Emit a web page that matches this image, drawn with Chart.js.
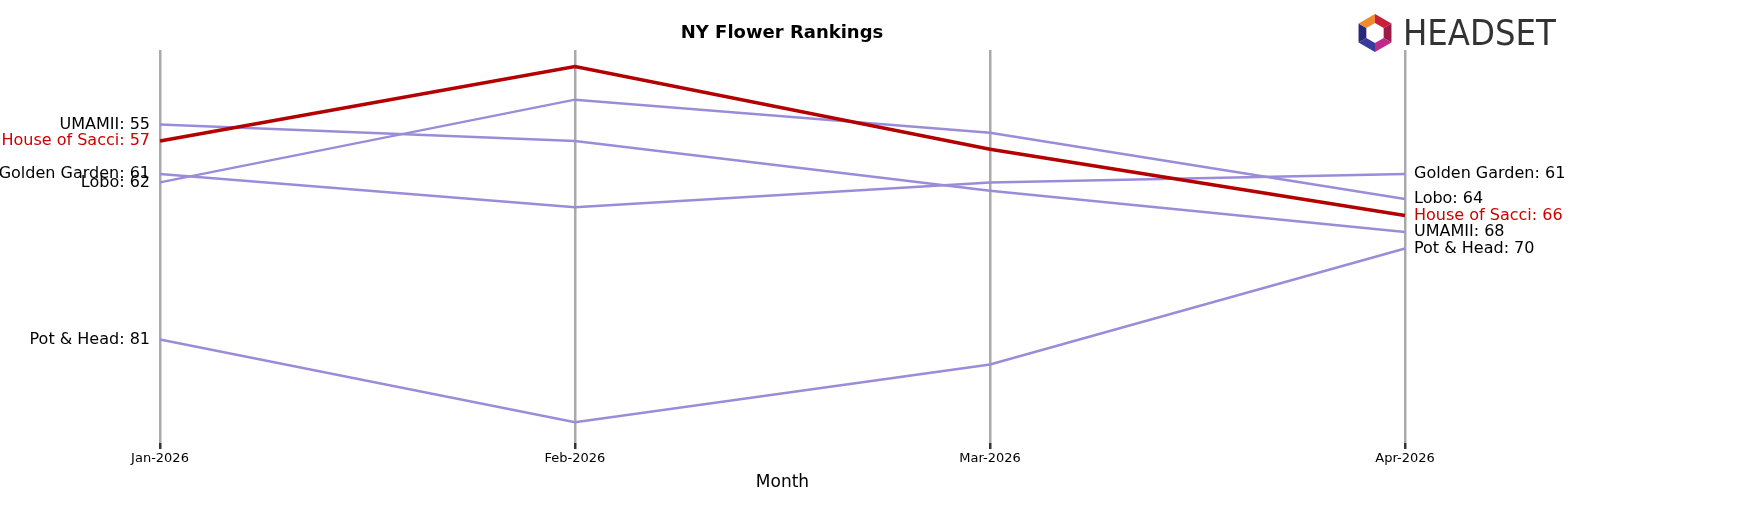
<!DOCTYPE html>
<html><head><script src="https://cdn.jsdelivr.net/npm/chart.js@4"></script>
<style>body{margin:0;background:#fff}#w{width:1749px;height:507px}</style></head>
<body><div id="w"><canvas id="c"></canvas></div>
<script>
const months=["Jan-2026","Feb-2026","Mar-2026","Apr-2026"];
const brands=["UMAMII","House of Sacci","Golden Garden","Lobo","Pot & Head"];
const umamii=[55,57,63,68];
const sacci=[57,48,58,66];
const golden=[61,65,62,61];
const lobo=[62,52,56,64];
const potHead=[81,91,84,70];
const series=[umamii,sacci,golden,lobo,potHead];
const highlight="House of Sacci";
const ds=brands.map((b,i)=>({label:b,data:series[i],borderColor:b===highlight?"#b30000":"#9b8cd9",borderWidth:b===highlight?3.5:2.5,pointRadius:0,tension:0,order:b===highlight?0:1}));
const labelPlugin={id:"lbl",afterDraw(ch){
 const c=ch.ctx,x=ch.scales.x,y=ch.scales.y;
 c.save();c.font="16px 'DejaVu Sans'";c.textBaseline="middle";
 ds.forEach(d=>{c.fillStyle=d.label===highlight?"#cc0000":"#000";
  c.textAlign="right";c.fillText(d.label+": "+d.data[0],x.getPixelForValue(0)-10,y.getPixelForValue(d.data[0]));
  c.textAlign="left";c.fillText(d.label+": "+d.data[3],x.getPixelForValue(3)+9,y.getPixelForValue(d.data[3]));});
 c.fillStyle="#000";c.font="bold 18px 'DejaVu Sans'";c.textAlign="center";c.fillText("NY Flower Rankings",782,33);
 const cx=1375,cy=38;const cols=["#c8203a","#a01848","#c0288a","#3a3a9a","#28287a","#f08a30"];
 for(let k=0;k<6;k++){c.beginPath();const a0=(-90+k*60)*Math.PI/180,a1=(-30+k*60)*Math.PI/180;
  c.moveTo(cx+19*Math.cos(a0),cy-5+19*Math.sin(a0));c.lineTo(cx+19*Math.cos(a1),cy-5+19*Math.sin(a1));
  c.lineTo(cx+10*Math.cos(a1),cy-5+10*Math.sin(a1));c.lineTo(cx+10*Math.cos(a0),cy-5+10*Math.sin(a0));c.closePath();c.fillStyle=cols[k];c.fill();}
 c.fillStyle="#333";c.font="36px 'DejaVu Sans Condensed'";c.textAlign="left";c.fillText("HEADSET",1403,36);
 c.restore();}};
new Chart(document.getElementById("c"),{type:"line",data:{labels:months,datasets:ds},
options:{responsive:true,maintainAspectRatio:false,animation:false,
layout:{padding:{left:160,right:344,top:50,bottom:10}},
plugins:{legend:{display:false},tooltip:{enabled:false}},
scales:{x:{offset:false,grid:{color:"#aaa",lineWidth:2.5,drawTicks:true,tickLength:6,tickColor:"#333"},border:{display:false},
 ticks:{color:"#000",font:{size:13,family:"DejaVu Sans"},maxRotation:0,padding:2},
 title:{display:true,text:"Month",color:"#000",font:{size:17,family:"DejaVu Sans"},padding:{top:4}}},
 y:{reverse:true,min:46,max:93.5,display:false}}},
plugins:[labelPlugin]});
</script></body></html>
